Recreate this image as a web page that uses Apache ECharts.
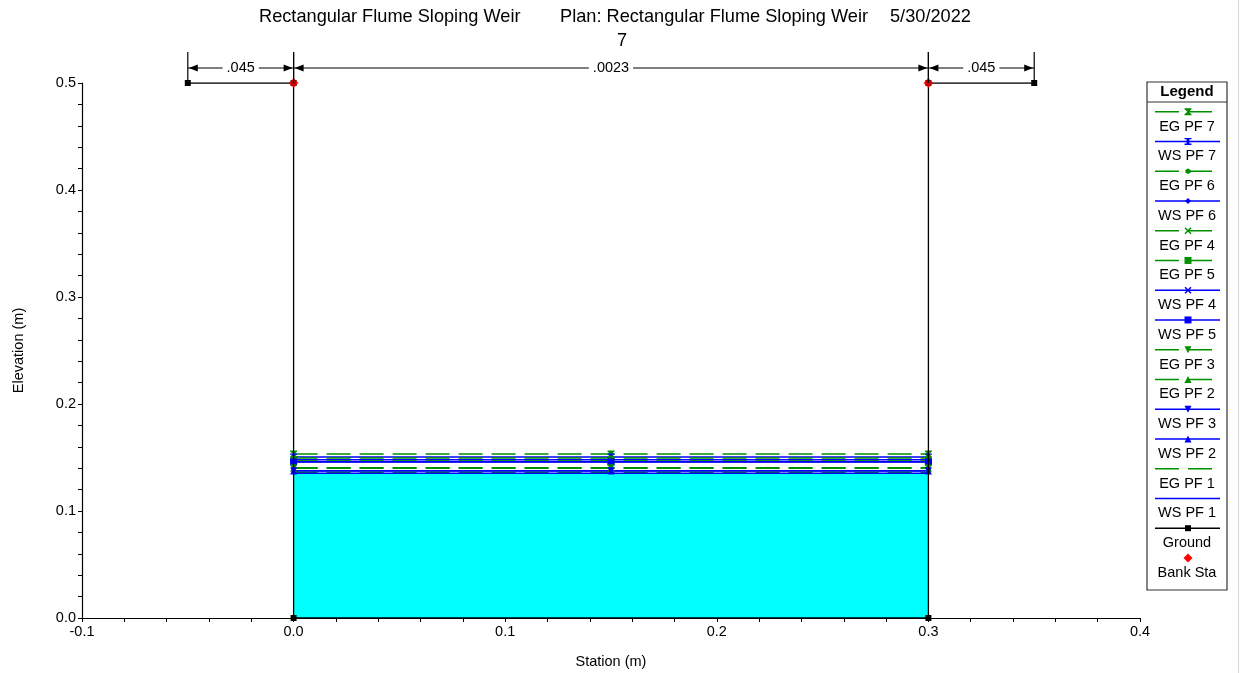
<!DOCTYPE html>
<html>
<head>
<meta charset="utf-8">
<script src="https://cdn.jsdelivr.net/npm/echarts@6/dist/echarts.min.js"></script>
<style>
html,body{margin:0;padding:0;background:#fff;}
#chart{width:1254px;height:673px;}
</style>
</head>
<body>
<div id="chart"></div>
<script>
// ---------------- DATA ----------------
const titleLeft = 'Rectangular Flume Sloping Weir';
const titlePlan = 'Plan: Rectangular Flume Sloping Weir';
const titleDate = '5/30/2022';
const titleSub = '7';
const xAxisName = 'Station (m)';
const yAxisName = 'Elevation (m)';

// profile lines (legend order = descending elevation)
const profileNames = ['EG PF 7','WS PF 7','EG PF 6','WS PF 6','EG PF 4','EG PF 5','WS PF 4','WS PF 5','EG PF 3','EG PF 2','WS PF 3','WS PF 2','EG PF 1','WS PF 1'];
const profileElev  = [0.1533, 0.1505, 0.1495, 0.1478, 0.1468, 0.1465, 0.1460, 0.1457, 0.1405, 0.1400, 0.1377, 0.1373, 0.1360, 0.1352];
const wsStations   = [0, 0.15, 0.3];

// ground
const groundStation = [-0.05, 0, 0, 0.3, 0.3, 0.35];
const groundElev    = [0.5, 0.5, 0, 0, 0.5, 0.5];
// bank stations
const bankStation = [0, 0.3];
const bankElev    = [0.5, 0.5];
// Manning's n
const nBreaks = [-0.05, 0, 0.3, 0.35];
const nValues = ['.045', '.0023', '.045'];
const nTopElev = 0.5;

// ---------------- STYLES ----------------
const GREEN = '#009000', BLUE = '#0000ff', BLACK = '#000000', RED = '#ff0000', CYAN = '#00ffff';
const FONT = '"Liberation Sans", Arial, sans-serif';
const SHAPES = {
  hourglass: [[0,0],[10,0],[10,1.5],[6,5],[10,8.5],[10,10],[0,10],[0,8.5],[4,5],[0,1.5]],
  ibeam: [[0,0],[10,0],[10,2],[7,2],[7,8],[10,8],[10,10],[0,10],[0,8],[3,8],[3,2],[0,2]],
  circle: [[3,0],[7,0],[10,3],[10,7],[7,10],[3,10],[0,7],[0,3]],
  diamond: [[5,0],[10,5],[5,10],[0,5]],
  cross: [[0,1.5],[1.5,0],[5,3.5],[8.5,0],[10,1.5],[6.5,5],[10,8.5],[8.5,10],[5,6.5],[1.5,10],[0,8.5],[3.5,5]],
  square: [[0,0],[10,0],[10,10],[0,10]],
  triDown: [[0,0],[10,0],[5,9]],
  triUp: [[5,0],[10,9],[0,9]]
};
function symPath(name){ return 'path://M' + SHAPES[name].map(p => p[0] + ',' + p[1]).join(' L') + ' Z'; }
function symPoly(name, cx, cy, size){
  const pts = SHAPES[name];
  const xs = pts.map(p => p[0]), ys = pts.map(p => p[1]);
  const x0 = Math.min(...xs), x1 = Math.max(...xs), y0 = Math.min(...ys), y1 = Math.max(...ys);
  return pts.map(p => [cx - size / 2 + (p[0] - x0) / (x1 - x0) * size, cy - size / 2 + (p[1] - y0) / (y1 - y0) * size]);
}
const profileShape = ['hourglass','ibeam','circle','diamond','cross','square','cross','square','triDown','triUp','triDown','triUp',null,null];
const profileSize  = [7,7,5,6,7,7,7,7,7,7,7,7,0,0];
function isEG(name){ return name.indexOf('EG') === 0; }
const EG_DASH = [24, 9];

// ---------------- SERIES ----------------
const series = [];
const wsp1 = profileElev[profileNames.indexOf('WS PF 1')];
series.push({
  type: 'line', name: 'fill', silent: true, z: 1,
  data: wsStations.map(s => [s, wsp1]),
  symbol: 'none', lineStyle: {width: 0, opacity: 0},
  areaStyle: {color: CYAN, opacity: 1, origin: 'start'}
});
profileNames.forEach((name, i) => {
  const eg = isEG(name);
  const col = eg ? GREEN : BLUE;
  series.push({
    type: 'line', name: name, z: 3,
    data: wsStations.map(s => [s, profileElev[i]]),
    symbol: profileShape[i] ? symPath(profileShape[i]) : 'none',
    symbolSize: profileSize[i],
    showSymbol: !!profileShape[i],
    itemStyle: {color: col},
    lineStyle: {color: col, width: 1.5, type: eg ? EG_DASH : 'solid'}
  });
});
series.push({
  type: 'line', name: 'Ground', z: 5,
  data: groundStation.map((s, i) => [s, groundElev[i]]),
  symbol: symPath('square'), symbolSize: 6,
  itemStyle: {color: BLACK}, lineStyle: {color: BLACK, width: 1.3}
});
series.push({
  type: 'scatter', name: 'Bank Sta', z: 6,
  data: bankStation.map((s, i) => [s, bankElev[i]]),
  symbol: symPath('diamond'), symbolSize: 10,
  itemStyle: {color: RED}
});
series.push({
  type: 'custom', name: 'nValues', z: 7, silent: true, clip: false,
  data: nValues.map((v, i) => [nBreaks[i], nBreaks[i + 1], nTopElev]),
  encode: {x: [0, 1], y: 2},
  renderItem: function (params, api) {
    const i = params.dataIndex;
    const p0 = api.coord([api.value(0), api.value(2)]);
    const p1 = api.coord([api.value(1), api.value(2)]);
    const yTop = p0[1] - 31, yA = p0[1] - 15, ah = 9, aw = 3.5;
    const st = {stroke: BLACK, lineWidth: 1.2};
    return {
      type: 'group',
      children: [
        {type: 'line', shape: {x1: p0[0], y1: yTop, x2: p0[0], y2: p0[1]}, style: st},
        {type: 'line', shape: {x1: p1[0], y1: yTop, x2: p1[0], y2: p1[1]}, style: st},
        {type: 'line', shape: {x1: p0[0], y1: yA, x2: p1[0], y2: yA}, style: st},
        {type: 'polygon', shape: {points: [[p0[0] + 1, yA], [p0[0] + 1 + ah, yA - aw], [p0[0] + 1 + ah, yA + aw]]}, style: {fill: BLACK}},
        {type: 'polygon', shape: {points: [[p1[0] - 1, yA], [p1[0] - 1 - ah, yA - aw], [p1[0] - 1 - ah, yA + aw]]}, style: {fill: BLACK}},
        {type: 'text', x: (p0[0] + p1[0]) / 2, y: yA,
          style: {text: nValues[i], textAlign: 'center', textVerticalAlign: 'middle', align: 'center', verticalAlign: 'middle',
            font: '14.5px ' + FONT, fill: '#000', backgroundColor: '#fff', padding: [0, 4]}}
      ]
    };
  }
});

// ---------------- LEGEND (graphic) ----------------
const legendNames = profileNames.concat(['Ground', 'Bank Sta']);
const legendEls = [];
const LX = 1147, LY = 82, LW = 80, LH = 508;
legendEls.push({type: 'rect', shape: {x: LX, y: LY, width: LW, height: LH}, style: {fill: '#fff', stroke: '#333', lineWidth: 1.2}});
legendEls.push({type: 'text', x: LX + LW / 2, y: 91.5, style: {text: 'Legend', textAlign: 'center', textVerticalAlign: 'middle', align: 'center', verticalAlign: 'middle', font: 'bold 15px ' + FONT, fill: '#000'}});
legendEls.push({type: 'line', shape: {x1: LX, y1: 102, x2: LX + LW, y2: 102}, style: {stroke: '#333', lineWidth: 1.2}});
legendNames.forEach((name, i) => {
  const ly = 111.7 + 29.75 * i, ty = 126.5 + 29.75 * i;
  let col, shape, size, dash = null, line = true;
  if (i < profileNames.length) {
    col = isEG(name) ? GREEN : BLUE; shape = profileShape[i]; size = profileSize[i]; dash = isEG(name) ? EG_DASH : null;
  } else if (name === 'Ground') {
    col = BLACK; shape = 'square'; size = 6;
  } else {
    col = RED; shape = 'diamond'; size = 9; line = false;
  }
  if (line) {
    const ls = {stroke: col, lineWidth: 1.5};
    if (dash) ls.lineDash = dash;
    legendEls.push({type: 'line', shape: {x1: 1155, y1: ly, x2: 1220, y2: ly}, style: ls});
  }
  if (shape) legendEls.push({type: 'polygon', shape: {points: symPoly(shape, 1188, ly, size)}, style: {fill: col}});
  legendEls.push({type: 'text', x: 1187, y: ty, style: {text: name, textAlign: 'center', textVerticalAlign: 'middle', align: 'center', verticalAlign: 'middle', font: '14.5px ' + FONT, fill: '#000'}});
});
legendEls.push({type: 'line', shape: {x1: 1238.5, y1: 0, x2: 1238.5, y2: 673}, style: {stroke: '#d6d6d6', lineWidth: 1}});

// ---------------- OPTION ----------------
const chart = echarts.init(document.getElementById('chart'), null, {renderer: 'canvas'});
const titleStyle = {fontFamily: FONT, fontSize: 18.2, fontWeight: 'normal', color: '#000'};
chart.setOption({
  animation: false,
  backgroundColor: '#fff',
  title: [
    {text: titleLeft, left: 259, top: 8, padding: 0, textStyle: titleStyle},
    {text: titlePlan, left: 560, top: 8, padding: 0, textStyle: titleStyle},
    {text: titleDate, left: 890, top: 8, padding: 0, textStyle: titleStyle},
    {text: titleSub, left: 617, top: 32, padding: 0, textStyle: titleStyle}
  ],
  grid: {left: 82, right: 114, top: 83, bottom: 55, containLabel: false, outerBoundsMode: 'none'},
  xAxis: {
    type: 'value', min: -0.1, max: 0.4, interval: 0.1,
    name: xAxisName, nameLocation: 'middle', nameGap: 36,
    nameTextStyle: {fontFamily: FONT, fontSize: 14.5, color: '#000'},
    axisLine: {show: true, onZero: false, lineStyle: {color: '#000', width: 1.2}},
    axisTick: {show: true, length: 4, lineStyle: {color: '#000'}},
    minorTick: {show: true, splitNumber: 5, length: 4, lineStyle: {color: '#000'}},
    splitLine: {show: false},
    axisLabel: {formatter: v => v.toFixed(1), fontFamily: FONT, fontSize: 14.5, color: '#000', margin: 6}
  },
  yAxis: {
    type: 'value', min: 0, max: 0.5, interval: 0.1,
    name: yAxisName, nameLocation: 'middle', nameGap: 56, nameRotate: 90,
    nameTextStyle: {fontFamily: FONT, fontSize: 14.5, color: '#000'},
    axisLine: {show: true, onZero: false, lineStyle: {color: '#000', width: 1.2}},
    axisTick: {show: true, length: 4, lineStyle: {color: '#000'}},
    minorTick: {show: true, splitNumber: 5, length: 4, lineStyle: {color: '#000'}},
    splitLine: {show: false},
    axisLabel: {formatter: v => v.toFixed(1), fontFamily: FONT, fontSize: 14.5, color: '#000', margin: 6}
  },
  series: series,
  graphic: legendEls
});
</script>
</body>
</html>
